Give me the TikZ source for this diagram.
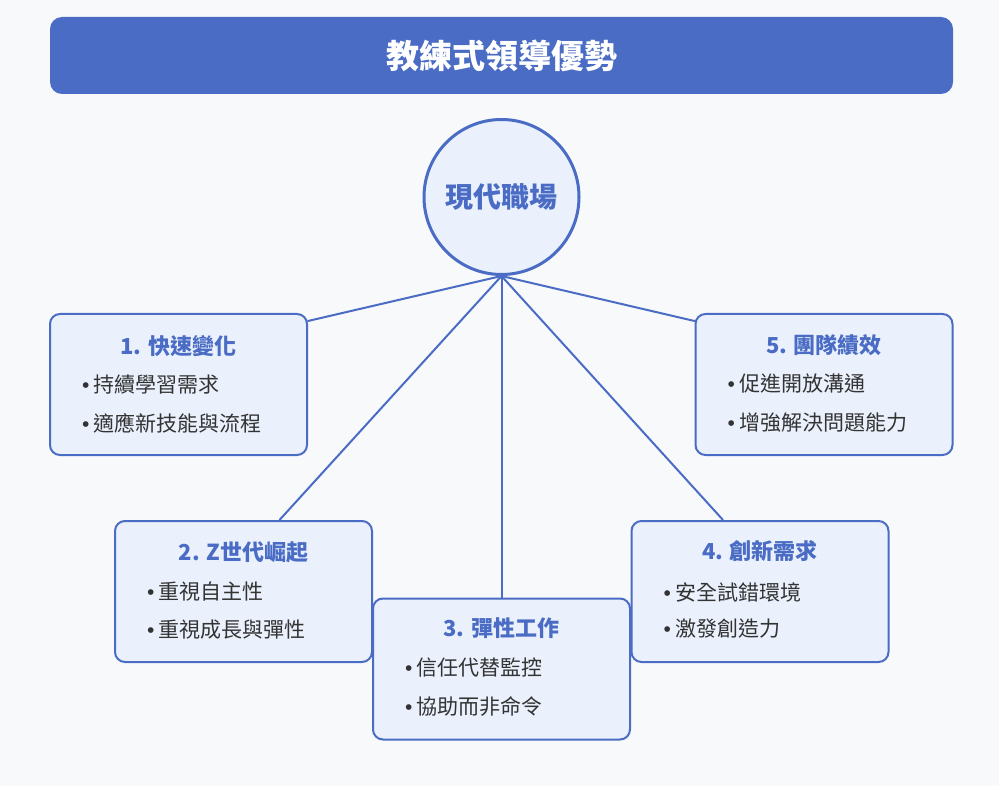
\documentclass[tikz,border=0pt]{standalone}
\usepackage{fontspec}
\setmainfont{Noto Sans CJK TC}
\newfontfamily\dotfont{Liberation Sans}
\usetikzlibrary{positioning}
\definecolor{mainblue}{HTML}{4A6CC4}
\definecolor{boxfill}{HTML}{EAF1FD}
\definecolor{pagebg}{HTML}{F8F9FA}
\definecolor{itemgray}{HTML}{333333}
\tikzset{
  box/.style={draw=mainblue, line width=2pt, fill=boxfill, rounded corners=10pt,
    minimum width=257pt, minimum height=141pt, inner sep=0pt},
  boxtitle/.style={text=mainblue, inner sep=0pt, font=\fontsize{22}{24}\selectfont\bfseries},
  item/.style={anchor=west, text=itemgray, inner sep=0pt, font=\fontsize{21}{23}\selectfont},
  link/.style={draw=mainblue, line width=2pt},
}
\newcommand{\bul}{{\dotfont\textbullet}\hspace{4pt}}
\begin{document}
\begin{tikzpicture}[x=1pt, y=-1pt, line join=round, line cap=round]
\fill[pagebg] (0,0) rectangle (999,786);
\useasboundingbox (0,0) rectangle (999,786);
% Titelbalken
\node[fill=mainblue, rounded corners=12pt, minimum width=903pt, minimum height=77pt,
  text=white, font=\fontsize{33}{35}\selectfont\bfseries] (head) at (501.5,55.5) {教練式領導優勢};
% Mitte
\node[circle, draw=mainblue, line width=3pt, fill=boxfill, minimum size=155pt, inner sep=0pt,
  text=mainblue, font=\fontsize{28}{30}\selectfont\bfseries] (hub) at (501.5,197) {現代職場};
% Kaesten
\node[box] (b1) at (178.5,384.5) {};
\node[box] (b2) at (243.5,591.5) {};
\node[box] (b4) at (760,591.5) {};
\node[box] (b5) at (824,384.5) {};
\node[box] (b3) at (501.5,669) {};
\node[boxtitle] (t1) at ([yshift=-33pt]b1.north) {1. 快速變化};
\node[boxtitle] (t2) at ([yshift=-32pt]b2.north) {2. Z世代崛起};
\node[boxtitle] (t3) at ([yshift=-31pt]b3.north) {3. 彈性工作};
\node[boxtitle] (t4) at ([yshift=-31pt]b4.north) {4. 創新需求};
\node[boxtitle] (t5) at ([yshift=-32pt]b5.north) {5. 團隊績效};
\node[item] (i1a) at ([xshift=33pt,yshift=-72pt]b1.north west) {\bul 持續學習需求};
\node[item] (i1b) at ([xshift=33pt,yshift=-110pt]b1.north west) {\bul 適應新技能與流程};
\node[item] (i2a) at ([xshift=33pt,yshift=-72pt]b2.north west) {\bul 重視自主性};
\node[item] (i2b) at ([xshift=33pt,yshift=-110pt]b2.north west) {\bul 重視成長與彈性};
\node[item] (i3a) at ([xshift=33pt,yshift=-70pt]b3.north west) {\bul 信任代替監控};
\node[item] (i3b) at ([xshift=33pt,yshift=-109pt]b3.north west) {\bul 協助而非命令};
\node[item] (i4a) at ([xshift=33pt,yshift=-72pt]b4.north west) {\bul 安全試錯環境};
\node[item] (i4b) at ([xshift=33pt,yshift=-109pt]b4.north west) {\bul 激發創造力};
\node[item] (i5a) at ([xshift=33pt,yshift=-71pt]b5.north west) {\bul 促進開放溝通};
\node[item] (i5b) at ([xshift=33pt,yshift=-110pt]b5.north west) {\bul 增強解決問題能力};
% Verbindungen
\draw[link] (hub.south) -- ([yshift=-8pt]b1.north east);
\draw[link] (hub.south) -- ([xshift=36pt]b2.north);
\draw[link] (hub.south) -- (b3.north);
\draw[link] (hub.south) -- ([xshift=-37pt]b4.north);
\draw[link] (hub.south) -- ([yshift=-8pt]b5.north west);
\end{tikzpicture}
\end{document}
